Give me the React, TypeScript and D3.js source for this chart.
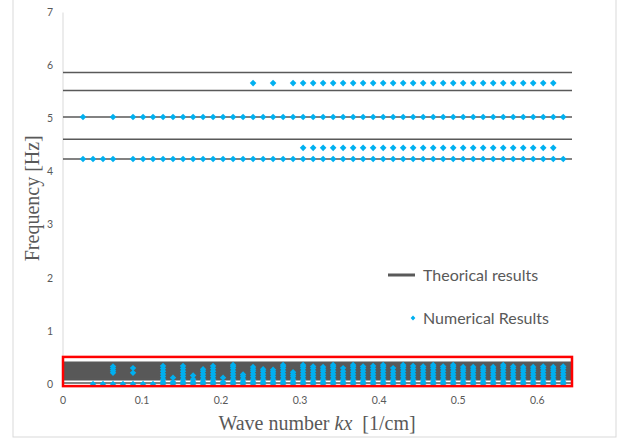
import * as React from "react";
import * as d3 from "d3";

// wave numbers kx [1/cm] where numerical results were computed
const kxAll = [
  0.0253, 0.038, 0.0506, 0.0633, 0.0759, 0.0886, 0.1013, 0.1139, 0.1266, 0.1392,
  0.1519, 0.1646, 0.1772, 0.1899, 0.2025, 0.2152, 0.2278, 0.2405, 0.2532, 0.2658,
  0.2785, 0.2911, 0.3038, 0.3165, 0.3291, 0.3418, 0.3544, 0.3671, 0.3797, 0.3924,
  0.4051, 0.4177, 0.4304, 0.443, 0.4557, 0.4684, 0.481, 0.4937, 0.5063, 0.519,
  0.5316, 0.5443, 0.557, 0.5696, 0.5823, 0.5949, 0.6076, 0.6203, 0.6329,
];

// theoretical frequencies [Hz] (horizontal lines)
const theoryHigh = [4.24, 4.61, 5.03, 5.53, 5.87];
const theoryLow = [
  0.02, 0.08, 0.095, 0.11, 0.125, 0.14, 0.155, 0.17, 0.185, 0.2, 0.215, 0.23,
  0.245, 0.26, 0.275, 0.29, 0.305, 0.32, 0.335, 0.35, 0.365, 0.38, 0.395, 0.41,
];
const theoryKxEnd = 0.644;

// numerical results, upper modes: frequency and the kx where they were found
const row424Freq = 4.24;
const row424Kx = [
  0.0253, 0.038, 0.0506, 0.0633, 0.0886, 0.1013, 0.1139, 0.1266, 0.1392, 0.1519,
  0.1646, 0.1772, 0.1899, 0.2025, 0.2152, 0.2278, 0.2405, 0.2532, 0.2658, 0.2785,
  0.2911, 0.3038, 0.3165, 0.3291, 0.3418, 0.3544, 0.3671, 0.3797, 0.3924, 0.4051,
  0.4177, 0.4304, 0.443, 0.4557, 0.4684, 0.481, 0.4937, 0.5063, 0.519, 0.5316,
  0.5443, 0.557, 0.5696, 0.5823, 0.5949, 0.6076, 0.6203, 0.6329,
];
const row445Freq = 4.45;
const row445Kx = [
  0.3038, 0.3165, 0.3291, 0.3418, 0.3544, 0.3671, 0.3797, 0.3924, 0.4051, 0.4177,
  0.4304, 0.443, 0.4557, 0.4684, 0.481, 0.4937, 0.5063, 0.519, 0.5316, 0.5443,
  0.557, 0.5696, 0.5823, 0.5949, 0.6076, 0.6203,
];
const row503Freq = 5.03;
const row503Kx = [
  0.0253, 0.0633, 0.0886, 0.1013, 0.1139, 0.1266, 0.1392, 0.1519, 0.1646, 0.1772,
  0.1899, 0.2025, 0.2152, 0.2278, 0.2405, 0.2532, 0.2658, 0.2785, 0.2911, 0.3038,
  0.3165, 0.3291, 0.3418, 0.3544, 0.3671, 0.3797, 0.3924, 0.4051, 0.4177, 0.4304,
  0.443, 0.4557, 0.4684, 0.481, 0.4937, 0.5063, 0.519, 0.5316, 0.5443, 0.557,
  0.5696, 0.5823, 0.5949, 0.6076, 0.6203, 0.6329,
];
const row567Freq = 5.67;
const row567Kx = [
  0.2405, 0.2658, 0.2911, 0.3038, 0.3165, 0.3291, 0.3418, 0.3544, 0.3671, 0.3797,
  0.3924, 0.4051, 0.4177, 0.4304, 0.443, 0.4557, 0.4684, 0.481, 0.4937, 0.5063,
  0.519, 0.5316, 0.5443, 0.557, 0.5696, 0.5823, 0.5949, 0.6076, 0.6203,
];

// numerical results, low modes: frequencies found at each kx
const lowKx = kxAll.slice(1);
const lowFreqs = [
  [0],
  [0],
  [0, 0.21, 0.25, 0.29, 0.33],
  [0],
  [0, 0.21, 0.3],
  [0],
  [0],
  [0, 0.04, 0.09, 0.14, 0.19, 0.24, 0.29, 0.34],
  [0, 0.04, 0.12],
  [0, 0.04, 0.09, 0.14, 0.19, 0.24, 0.29, 0.34],
  [0, 0.04, 0.09, 0.16],
  [0, 0.04, 0.09, 0.14, 0.19, 0.24, 0.28],
  [0, 0.04, 0.09, 0.14, 0.19, 0.24, 0.29, 0.34],
  [0, 0.04, 0.12],
  [0, 0.04, 0.09, 0.14, 0.19, 0.24, 0.29, 0.33, 0.36],
  [0, 0.04, 0.09, 0.14, 0.18],
  [0, 0.04, 0.09, 0.14, 0.19, 0.24, 0.28, 0.32],
  [0, 0.04, 0.09, 0.14, 0.19, 0.24, 0.28],
  [0, 0.04, 0.09, 0.14, 0.19, 0.23, 0.27],
  [0, 0.04, 0.09, 0.14, 0.19, 0.24, 0.29, 0.33, 0.36],
  [0, 0.04, 0.09, 0.14, 0.18, 0.22],
  [0, 0.04, 0.09, 0.14, 0.19, 0.24, 0.29, 0.33, 0.36],
  [0, 0.04, 0.09, 0.14, 0.19, 0.24, 0.29, 0.33],
  [0, 0.04, 0.09, 0.14, 0.19, 0.24, 0.28, 0.32],
  [0, 0.04, 0.09, 0.14, 0.19, 0.24, 0.29, 0.33, 0.36],
  [0, 0.04, 0.09, 0.14, 0.19, 0.24, 0.3],
  [0, 0.04, 0.09, 0.14, 0.19, 0.24, 0.29, 0.33, 0.36],
  [0, 0.04, 0.09, 0.14, 0.19, 0.24, 0.29, 0.33],
  [0, 0.04, 0.09, 0.14, 0.19, 0.24, 0.29, 0.34],
  [0, 0.04, 0.09, 0.14, 0.19, 0.24, 0.29, 0.33, 0.36],
  [0, 0.04, 0.09, 0.14, 0.19, 0.24, 0.3],
  [0, 0.04, 0.09, 0.14, 0.19, 0.24, 0.29, 0.33, 0.36],
  [0, 0.04, 0.09, 0.14, 0.19, 0.24, 0.29, 0.34],
  [0, 0.04, 0.09, 0.14, 0.19, 0.24, 0.29, 0.33],
  [0, 0.04, 0.09, 0.14, 0.19, 0.24, 0.29, 0.33, 0.36],
  [0, 0.04, 0.09, 0.14, 0.19, 0.24, 0.29, 0.33],
  [0, 0.04, 0.09, 0.14, 0.19, 0.24, 0.29, 0.33, 0.36],
  [0, 0.04, 0.09, 0.14, 0.19, 0.24, 0.28, 0.32],
  [0, 0.04, 0.09, 0.14, 0.19, 0.24, 0.28, 0.32],
  [0, 0.04, 0.09, 0.14, 0.19, 0.24, 0.28, 0.32],
  [0, 0.04, 0.09, 0.14, 0.19, 0.24, 0.28, 0.32],
  [0, 0.04, 0.09, 0.14, 0.19, 0.24, 0.29, 0.33, 0.36],
  [0, 0.04, 0.09, 0.14, 0.19, 0.24, 0.29, 0.33],
  [0, 0.04, 0.09, 0.14, 0.19, 0.24, 0.28, 0.32],
  [0, 0.04, 0.09, 0.14, 0.19, 0.24, 0.28, 0.32],
  [0, 0.04, 0.09, 0.14, 0.19, 0.24, 0.29, 0.33],
  [0, 0.04, 0.09, 0.14, 0.19, 0.24, 0.28, 0.32],
  [0, 0.04, 0.09, 0.14, 0.19, 0.24, 0.29, 0.33],
];

// highlighted region (red box) in data units
const boxKx = [0, 0.644];
const boxFreq = [-0.04, 0.51];

const xTicks = [0, 0.1, 0.2, 0.3, 0.4, 0.5, 0.6];
const yTicks = [0, 1, 2, 3, 4, 5, 6, 7];

const W = 622;
const H = 441;
const GRAY = "#595959";
const BLUE = "#00B0F0";
const sans = "Lato, 'Noto Sans', sans-serif";
const serif = "'Liberation Serif', 'DejaVu Serif', serif";

const diamond = (r: number) => `M0,${-r}L${r},0L0,${r}L${-r},0Z`;

export default function App() {
  const x = d3.scaleLinear().domain([0, 0.644]).range([63, 572]);
  const y = d3.scaleLinear().domain([0, 7]).range([384, 12.5]);

  const upperRows = [
    { f: row424Freq, kx: row424Kx },
    { f: row445Freq, kx: row445Kx },
    { f: row503Freq, kx: row503Kx },
    { f: row567Freq, kx: row567Kx },
  ];

  return (
    <svg
      width={W}
      height={H}
      style={{ position: "absolute", left: 0, top: 0, background: "#fff" }}
    >
      {/* chart area border */}
      <rect x={13} y={-5} width={603} height={442} fill="#fff" stroke="#d9d9d9" strokeWidth={1} />

      {/* y axis line */}
      <line x1={x(0)} x2={x(0)} y1={y(7)} y2={y(0)} stroke="#d9d9d9" strokeWidth={1} />

      {/* y tick labels */}
      {yTicks.map((t) => (
        <text key={t} x={53} y={y(t)} dy="0.35em" textAnchor="end" fontFamily={sans} fontSize={10.5} fill={GRAY}>
          {t}
        </text>
      ))}

      {/* x tick labels */}
      {xTicks.map((t) => (
        <text key={t} x={x(t)} y={404} textAnchor="middle" fontFamily={sans} fontSize={10.5} fill={GRAY}>
          {t}
        </text>
      ))}

      {/* theoretical lines */}
      {theoryLow.concat(theoryHigh).map((f, i) => (
        <line key={i} x1={x(0)} x2={x(theoryKxEnd)} y1={y(f)} y2={y(f)} stroke={GRAY} strokeWidth={1.5} />
      ))}

      {/* numerical results, upper modes */}
      {upperRows.map((row) =>
        row.kx.map((k, i) => (
          <path key={`${row.f}-${i}`} d={diamond(3.3)} transform={`translate(${x(k)},${y(row.f)})`} fill={BLUE} />
        ))
      )}

      {/* numerical results, low modes */}
      {lowKx.map((k, i) =>
        lowFreqs[i].map((f, j) => (
          <path key={`${i}-${j}`} d={diamond(3.2)} transform={`translate(${x(k)},${y(f)})`} fill={BLUE} />
        ))
      )}

      {/* red highlight box */}
      <rect
        x={x(boxKx[0])}
        y={y(boxFreq[1])}
        width={x(boxKx[1]) - x(boxKx[0])}
        height={y(boxFreq[0]) - y(boxFreq[1])}
        fill="none"
        stroke="#FF0000"
        strokeWidth={2.5}
      />

      {/* axis titles */}
      <text
        transform={`translate(39,${y(3.5)}) rotate(-90)`}
        textAnchor="middle"
        fontFamily={serif}
        fontSize={20}
        fill={GRAY}
      >
        Frequency [Hz]
      </text>
      <text x={317} y={430} textAnchor="middle" fontFamily={serif} fontSize={20} fill={GRAY} xmlSpace="preserve">
        Wave number <tspan fontStyle="italic">kx</tspan>{"  "}[1/cm]
      </text>

      {/* legend */}
      <line x1={388} x2={415} y1={275} y2={275} stroke={GRAY} strokeWidth={3} />
      <text x={423} y={275} dy="0.35em" fontFamily={sans} fontSize={16} fill={GRAY}>
        Theorical results
      </text>
      <path d={diamond(2.4)} transform="translate(413,318)" fill={BLUE} />
      <text x={423} y={318} dy="0.35em" fontFamily={sans} fontSize={16} fill={GRAY}>
        Numerical Results
      </text>
    </svg>
  );
}
